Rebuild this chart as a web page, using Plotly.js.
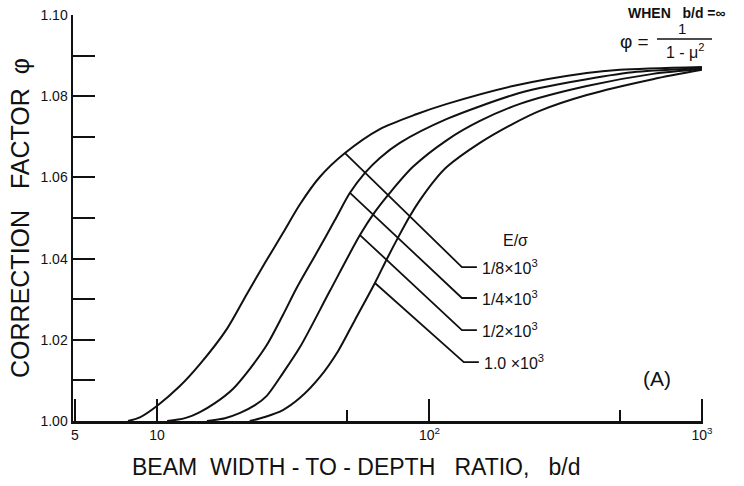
<!DOCTYPE html>
<html>
<head>
<meta charset="utf-8">
<script src="https://cdn.plot.ly/plotly-3.0.1.min.js"></script>
<style>
  html, body { margin: 0; padding: 0; background: #ffffff; }
  #chart { width: 744px; height: 486px; }
</style>
</head>
<body>
<div id="chart"></div>
<script>
// ---- Data (b/d on log axis, correction factor phi) ----
const seriesNames = ["1/8×10³", "1/4×10³", "1/2×10³", "1.0×10³"];

const bd_1  = [7.83, 8.66, 10, 12.14, 14.38, 18.07, 21.39, 24.9, 29.0, 33.5, 39.6, 49.0, 65.8, 90.0, 116, 202.5, 378, 500, 1000];
const phi_1 = [1.0000, 1.0009, 1.0037, 1.0086, 1.0140, 1.0227, 1.0313, 1.0389, 1.0463, 1.0534, 1.0601, 1.0660, 1.0719, 1.0756, 1.0781, 1.0825, 1.0857, 1.0865, 1.0872];

const bd_2  = [10.9, 12.67, 14.38, 16.32, 19.0, 21.9, 25.3, 29.0, 32.6, 38.7, 45.0, 51.1, 58.0, 65.8, 77.9, 116, 202.5, 254, 378, 577, 1000];
const phi_2 = [1.0000, 1.0007, 1.0022, 1.0044, 1.0079, 1.0128, 1.0187, 1.0261, 1.0328, 1.0416, 1.0495, 1.0562, 1.0611, 1.0648, 1.0685, 1.0744, 1.0803, 1.0820, 1.0842, 1.0860, 1.0869];

const bd_3  = [15.26, 17.77, 20.2, 22.9, 25.3, 29.0, 33.5, 43.1, 55.6, 63.1, 71.6, 87.0, 116, 153.2, 214.8, 378, 661, 1000];
const phi_3 = [1.0000, 1.0007, 1.0020, 1.0039, 1.0062, 1.0118, 1.0182, 1.0320, 1.0458, 1.0515, 1.0562, 1.0626, 1.0692, 1.0739, 1.0781, 1.0825, 1.0855, 1.0867];

const bd_4  = [21.9, 24.9, 29.0, 33.5, 39.6, 46.2, 53.3, 63.1, 69.8, 76.6, 84.8, 92.3, 104.8, 116, 153.2, 202.5, 254, 378, 661, 1000];
const phi_4 = [1.0000, 1.0010, 1.0027, 1.0057, 1.0108, 1.0172, 1.0249, 1.0340, 1.0399, 1.0451, 1.0505, 1.0544, 1.0594, 1.0626, 1.0685, 1.0732, 1.0764, 1.0803, 1.0842, 1.0865];

// Leader lines from each curve to its label
const leaderX_1 = [49.0, 131.6, 149.4];  const leaderY_1 = [1.0660, 1.0379, 1.0379];
const leaderX_2 = [51.1, 131.6, 149.4];  const leaderY_2 = [1.0562, 1.0303, 1.0303];
const leaderX_3 = [55.6, 131.6, 149.4];  const leaderY_3 = [1.0458, 1.0224, 1.0224];
const leaderX_4 = [63.1, 133.7, 151.9];  const leaderY_4 = [1.0340, 1.0145, 1.0145];

const labelTexts = ["1/8×10<sup>3</sup>", "1/4×10<sup>3</sup>", "1/2×10<sup>3</sup>", "1.0 ×10<sup>3</sup>"];

// Tick labels
const xTickVals = [5, 10, 100, 1000];
const xTickText = ["5", "10", "10<sup>2</sup>", "10<sup>3</sup>"];
const xMinorVals = [50, 500];
const yTickVals = [1.00, 1.01, 1.02, 1.03, 1.04, 1.05, 1.06, 1.07, 1.08, 1.09, 1.10];
const yTickText = ["1.00", "", "1.02", "", "1.04", "", "1.06", "", "1.08", "", "1.10"];

// ---- Build traces ----
const curves = [[bd_1, phi_1], [bd_2, phi_2], [bd_3, phi_3], [bd_4, phi_4]];
const leaders = [[leaderX_1, leaderY_1], [leaderX_2, leaderY_2], [leaderX_3, leaderY_3], [leaderX_4, leaderY_4]];

const traces = [];
curves.forEach((c, i) => {
  traces.push({
    x: c[0], y: c[1], type: "scatter", mode: "lines", name: seriesNames[i],
    line: { color: "#111111", width: 2, shape: "spline", smoothing: 0.8 },
    hoverinfo: "skip", showlegend: false
  });
});
leaders.forEach((l) => {
  traces.push({
    x: l[0], y: l[1], type: "scatter", mode: "lines",
    line: { color: "#111111", width: 1.8 },
    hoverinfo: "skip", showlegend: false
  });
});

// ---- Layout helpers (pixel -> paper) ----
const L = 73, R = 41, T = 15, B = 65, W = 744, H = 486;
const pw = W - L - R, ph = H - T - B;
const px = v => (v - L) / pw;
const py = v => (H - B - v) / ph;

const font = "Liberation Sans, Arial, sans-serif";
const annotations = [];
leaders.forEach((l, i) => {
  annotations.push({
    x: Math.log10(l[0][2]), y: l[1][2], xref: "x", yref: "y",
    text: labelTexts[i], showarrow: false, xanchor: "left", yanchor: "middle",
    xshift: 3, font: { family: font, size: 16, color: "#111" }
  });
});
annotations.push({ x: px(515), y: py(240), xref: "paper", yref: "paper", text: "E/σ",
  showarrow: false, xanchor: "center", yanchor: "middle", font: { family: font, size: 16, color: "#111" } });
annotations.push({ x: px(657), y: py(378), xref: "paper", yref: "paper", text: "(A)",
  showarrow: false, xanchor: "center", yanchor: "middle", font: { family: font, size: 21, color: "#111" } });
annotations.push({ x: px(677), y: py(13), xref: "paper", yref: "paper", text: "<b>WHEN   b/d =∞</b>",
  showarrow: false, xanchor: "center", yanchor: "middle", font: { family: font, size: 14, color: "#111" } });
annotations.push({ x: px(634), y: py(41), xref: "paper", yref: "paper", text: "φ =",
  showarrow: false, xanchor: "center", yanchor: "middle", font: { family: font, size: 19, color: "#111" } });
annotations.push({ x: px(682), y: py(29), xref: "paper", yref: "paper", text: "1",
  showarrow: false, xanchor: "center", yanchor: "middle", font: { family: font, size: 15, color: "#111" } });
annotations.push({ x: px(685), y: py(51), xref: "paper", yref: "paper", text: "1 - μ<sup>2</sup>",
  showarrow: false, xanchor: "center", yanchor: "middle", font: { family: font, size: 16, color: "#111" } });
// x-axis title, placed where the reference has it
annotations.push({ x: px(356), y: py(467), xref: "paper", yref: "paper", text: "BEAM  WIDTH - TO - DEPTH   RATIO,   b/d",
  showarrow: false, xanchor: "center", yanchor: "middle", font: { family: font, size: 23, color: "#111" } });

const layout = {
  width: W, height: H,
  margin: { l: L, r: R, t: T, b: B, pad: 0 },
  paper_bgcolor: "#ffffff", plot_bgcolor: "#ffffff",
  font: { family: font, color: "#111" },
  showlegend: false,
  xaxis: {
    type: "log", range: [0.692, 3.004],
    showline: true, linecolor: "#111", linewidth: 2.5,
    showgrid: false, zeroline: false,
    ticks: "inside", ticklen: 22, tickwidth: 2, tickcolor: "#111",
    tickmode: "array", tickvals: xTickVals, ticktext: xTickText,
    tickfont: { family: font, size: 14, color: "#111" },
    minor: { tickmode: "array", tickvals: xMinorVals, ticks: "inside", ticklen: 11, tickwidth: 2, tickcolor: "#111", showgrid: false }
  },
  yaxis: {
    range: [1.0, 1.10],
    showline: true, linecolor: "#111", linewidth: 2.5,
    showgrid: false, zeroline: false,
    ticks: "inside", ticklen: 22, tickwidth: 2, tickcolor: "#111",
    tickmode: "array", tickvals: yTickVals, ticktext: yTickText,
    tickfont: { family: font, size: 14, color: "#111" },
    title: { text: "CORRECTION   FACTOR  φ", font: { family: font, size: 25, color: "#111" }, standoff: 4 }
  },
  shapes: [
    { type: "line", xref: "paper", yref: "paper", x0: px(657), x1: px(712), y0: py(39), y1: py(39),
      line: { color: "#111", width: 1.5 } }
  ],
  annotations: annotations
};

Plotly.newPlot("chart", traces, layout, { displayModeBar: false, staticPlot: true });
</script>
</body>
</html>
